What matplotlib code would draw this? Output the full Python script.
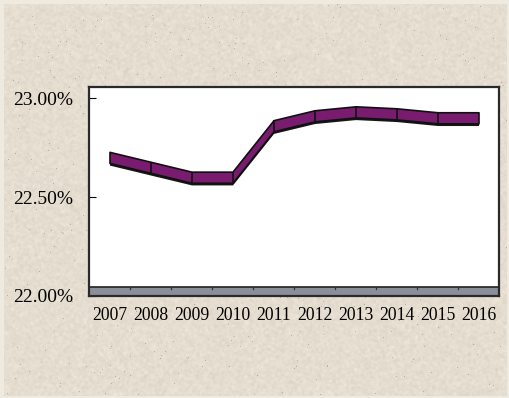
import numpy as np
import matplotlib
matplotlib.use("Agg")
import matplotlib.pyplot as plt

# Data
years = ["2007", "2008", "2009", "2010", "2011", "2012", "2013", "2014", "2015", "2016"]
share = [22.70, 22.65, 22.60, 22.60, 22.86, 22.91, 22.93, 22.92, 22.90, 22.90]
y_ticks = [22.00, 22.50, 23.00]
y_tick_labels = ["22.00%", "22.50%", "23.00%"]

W, H, DPI = 510, 398, 100
fig = plt.figure(figsize=(W / DPI, H / DPI), dpi=DPI)
fig.patch.set_facecolor("#ffffff")

# Parchment-style backdrop
rng = np.random.default_rng(7)
base = np.array([229, 221, 207], dtype=float) / 255.0
grain = rng.normal(0.0, 1.0, (H, W))
k = np.ones(3) / 3.0
grain = np.apply_along_axis(lambda r: np.convolve(r, k, mode="same"), 1, grain)
grain = np.apply_along_axis(lambda c: np.convolve(c, k, mode="same"), 0, grain)
tex = base[None, None, :] + 0.035 * grain[:, :, None]
specks = rng.random((H, W)) < 0.0025
tex[specks] -= 0.18
tex = np.clip(tex, 0, 1)
# thin pale border around the backdrop
edge = np.array([0.94, 0.92, 0.88])
tex[:4, :, :] = edge
tex[:, :4, :] = edge
tex[-2:, :, :] = edge
tex[:, -3:, :] = edge
fig.figimage(tex, xo=0, yo=0, origin="upper", zorder=0)

plt.rcParams["font.family"] = ["Liberation Serif", "DejaVu Serif"]

left, right, top, bottom = 89, 499, 87, 296
ax = fig.add_axes([left / W, 1 - bottom / H, (right - left) / W, (bottom - top) / H])
ax.set_facecolor("white")
ax.set_zorder(1)

x = np.arange(len(years))
v = np.array(share)
ax.set_xlim(-0.5, len(years) - 0.5)
ax.set_ylim(22.0, 23.0556)

# Floor strip
floor_top = 22.045
ax.axhspan(22.0, floor_top, facecolor="#8b8f99", edgecolor="#222222", lw=1.2, zorder=2)
for b in np.arange(0.5, len(years) - 0.5, 1.0):
    ax.plot([b, b], [floor_top, floor_top - 0.012], color="#333333", lw=0.9, zorder=3)

# Ribbon line with a shaded underside
half = 0.028
side = 0.011
ax.fill_between(x, v - half - side, v - half + 0.004, color="#161616", lw=0, zorder=4)
ax.fill_between(x, v - half, v + half, facecolor="#791c6f", edgecolor="#111111",
                lw=1.2, zorder=5)
ax.vlines(x[1:-1], v[1:-1] - half, v[1:-1] + half, color="#111111", lw=1.2, zorder=6)

ax.set_xticks(x)
ax.set_xticklabels(years)
ax.set_yticks(y_ticks)
ax.set_yticklabels(y_tick_labels)
ax.tick_params(axis="x", length=0, pad=8, labelsize=12.7, colors="black")
ax.tick_params(axis="y", direction="in", length=5, width=0.8, pad=11.5,
               labelsize=14, colors="black")
for s in ax.spines.values():
    s.set_color("#2a2a2a")
    s.set_linewidth(1.6)

fig.savefig("out.png", dpi=DPI)
